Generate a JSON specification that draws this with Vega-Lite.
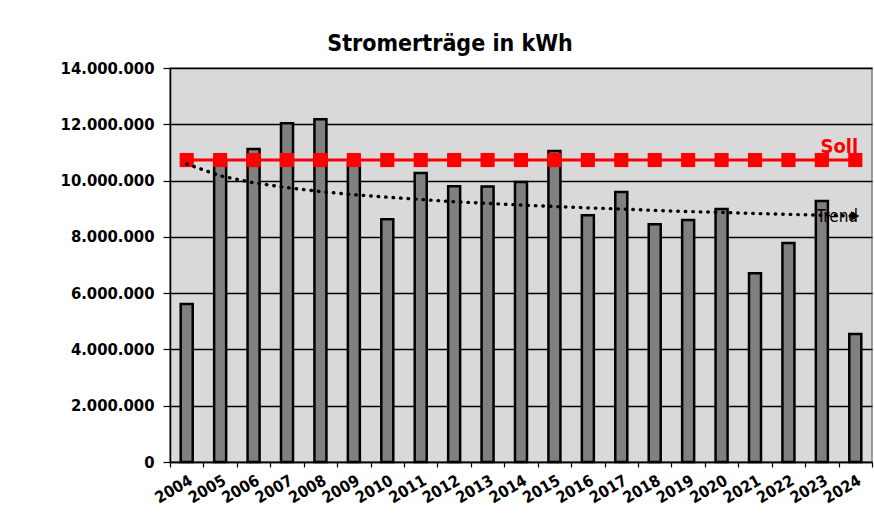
{
  "$schema": "https://vega.github.io/schema/vega-lite/v6.json",
  "autosize": "none",
  "width": 702,
  "height": 394,
  "padding": {"left": 170, "top": 68, "right": 2, "bottom": 56},
  "background": "#ffffff",
  "title": {
    "text": "Stromerträge in kWh",
    "font": "DejaVu Sans Condensed, DejaVu Sans",
    "fontSize": 23,
    "fontWeight": "bold",
    "color": "#000000",
    "anchor": "middle",
    "dx": -71,
    "offset": 4
  },
  "config": {
    "locale": {"number": {"decimal": ",", "thousands": ".", "grouping": [3], "currency": ["", " €"]}},
    "view": {"fill": "#d9d9d9", "stroke": "#808080", "strokeWidth": 1.5},
    "axis": {
      "labelFont": "DejaVu Sans Condensed, DejaVu Sans",
      "labelFontWeight": "bold",
      "labelColor": "#000000",
      "domainColor": "#000000",
      "domainWidth": 1.5,
      "tickColor": "#000000",
      "tickWidth": 1.2
    }
  },
  "data": {
    "values": [
      {"year": "2004", "ertrag": 5610000, "soll": 10730000, "trend": 10590000},
      {"year": "2005", "ertrag": 10650000, "soll": 10730000, "trend": 10170000},
      {"year": "2006", "ertrag": 11120000, "soll": 10730000, "trend": 9920000},
      {"year": "2007", "ertrag": 12040000, "soll": 10730000, "trend": 9750000},
      {"year": "2008", "ertrag": 12180000, "soll": 10730000, "trend": 9610000},
      {"year": "2009", "ertrag": 10600000, "soll": 10730000, "trend": 9500000},
      {"year": "2010", "ertrag": 8630000, "soll": 10730000, "trend": 9410000},
      {"year": "2011", "ertrag": 10270000, "soll": 10730000, "trend": 9330000},
      {"year": "2012", "ertrag": 9800000, "soll": 10730000, "trend": 9250000},
      {"year": "2013", "ertrag": 9790000, "soll": 10730000, "trend": 9190000},
      {"year": "2014", "ertrag": 9950000, "soll": 10730000, "trend": 9130000},
      {"year": "2015", "ertrag": 11050000, "soll": 10730000, "trend": 9080000},
      {"year": "2016", "ertrag": 8770000, "soll": 10730000, "trend": 9030000},
      {"year": "2017", "ertrag": 9590000, "soll": 10730000, "trend": 8990000},
      {"year": "2018", "ertrag": 8450000, "soll": 10730000, "trend": 8940000},
      {"year": "2019", "ertrag": 8600000, "soll": 10730000, "trend": 8900000},
      {"year": "2020", "ertrag": 8990000, "soll": 10730000, "trend": 8870000},
      {"year": "2021", "ertrag": 6710000, "soll": 10730000, "trend": 8830000},
      {"year": "2022", "ertrag": 7780000, "soll": 10730000, "trend": 8800000},
      {"year": "2023", "ertrag": 9270000, "soll": 10730000, "trend": 8770000},
      {"year": "2024", "ertrag": 4550000, "soll": 10730000, "trend": 8740000}
    ]
  },
  "encoding": {
    "x": {
      "field": "year",
      "type": "ordinal",
      "scale": {"paddingInner": 0, "paddingOuter": 0},
      "axis": {
        "title": null,
        "labelAngle": -30,
        "labelAlign": "right",
        "labelBaseline": "top",
        "labelFontSize": 16,
        "labelPadding": 5,
        "tickBand": "extent",
        "tickSize": 5,
        "grid": false
      }
    }
  },
  "layer": [
    {
      "mark": {"type": "bar", "size": 12, "fill": "#808080", "stroke": "#000000", "strokeWidth": 2.5},
      "encoding": {
        "y": {
          "field": "ertrag",
          "type": "quantitative",
          "title": null,
          "scale": {"domain": [0, 14000000]},
          "axis": {
            "values": [0, 2000000, 4000000, 6000000, 8000000, 10000000, 12000000, 14000000],
            "format": ",.0f",
            "labelFontSize": 16.5,
            "labelPadding": 9,
            "tickSize": 7,
            "grid": true,
            "gridColor": "#000000",
            "gridWidth": 1.3,
            "gridOpacity": 1
          }
        }
      }
    },
    {
      "mark": {"type": "line", "color": "#ff0000", "strokeWidth": 3},
      "encoding": {"y": {"field": "soll", "type": "quantitative", "title": null}}
    },
    {
      "mark": {"type": "point", "shape": "square", "filled": true, "size": 200, "color": "#ff0000", "opacity": 1},
      "encoding": {"y": {"field": "soll", "type": "quantitative", "title": null}}
    },
    {
      "mark": {"type": "line", "color": "#000000", "strokeWidth": 3.4, "strokeDash": [0.5, 7], "strokeCap": "round"},
      "encoding": {"y": {"field": "trend", "type": "quantitative", "title": null}}
    },
    {
      "transform": [{"filter": "datum.year == '2024'"}],
      "mark": {"type": "point", "shape": "triangle-right", "filled": true, "size": 90, "color": "#000000", "opacity": 1},
      "encoding": {"y": {"field": "trend", "type": "quantitative", "title": null}}
    },
    {
      "transform": [{"filter": "datum.year == '2024'"}],
      "mark": {"type": "text", "text": "Soll", "color": "#ff0000", "font": "DejaVu Sans Condensed, DejaVu Sans", "fontSize": 20, "fontWeight": "bold", "align": "center", "baseline": "alphabetic", "dx": -16, "dy": -7},
      "encoding": {"y": {"field": "soll", "type": "quantitative", "title": null}}
    },
    {
      "transform": [{"filter": "datum.year == '2024'"}],
      "mark": {"type": "text", "text": "Trend", "color": "#000000", "font": "DejaVu Sans Condensed, DejaVu Sans", "fontSize": 17, "align": "center", "baseline": "middle", "dx": -18, "dy": 1},
      "encoding": {"y": {"field": "trend", "type": "quantitative", "title": null}}
    }
  ]
}
